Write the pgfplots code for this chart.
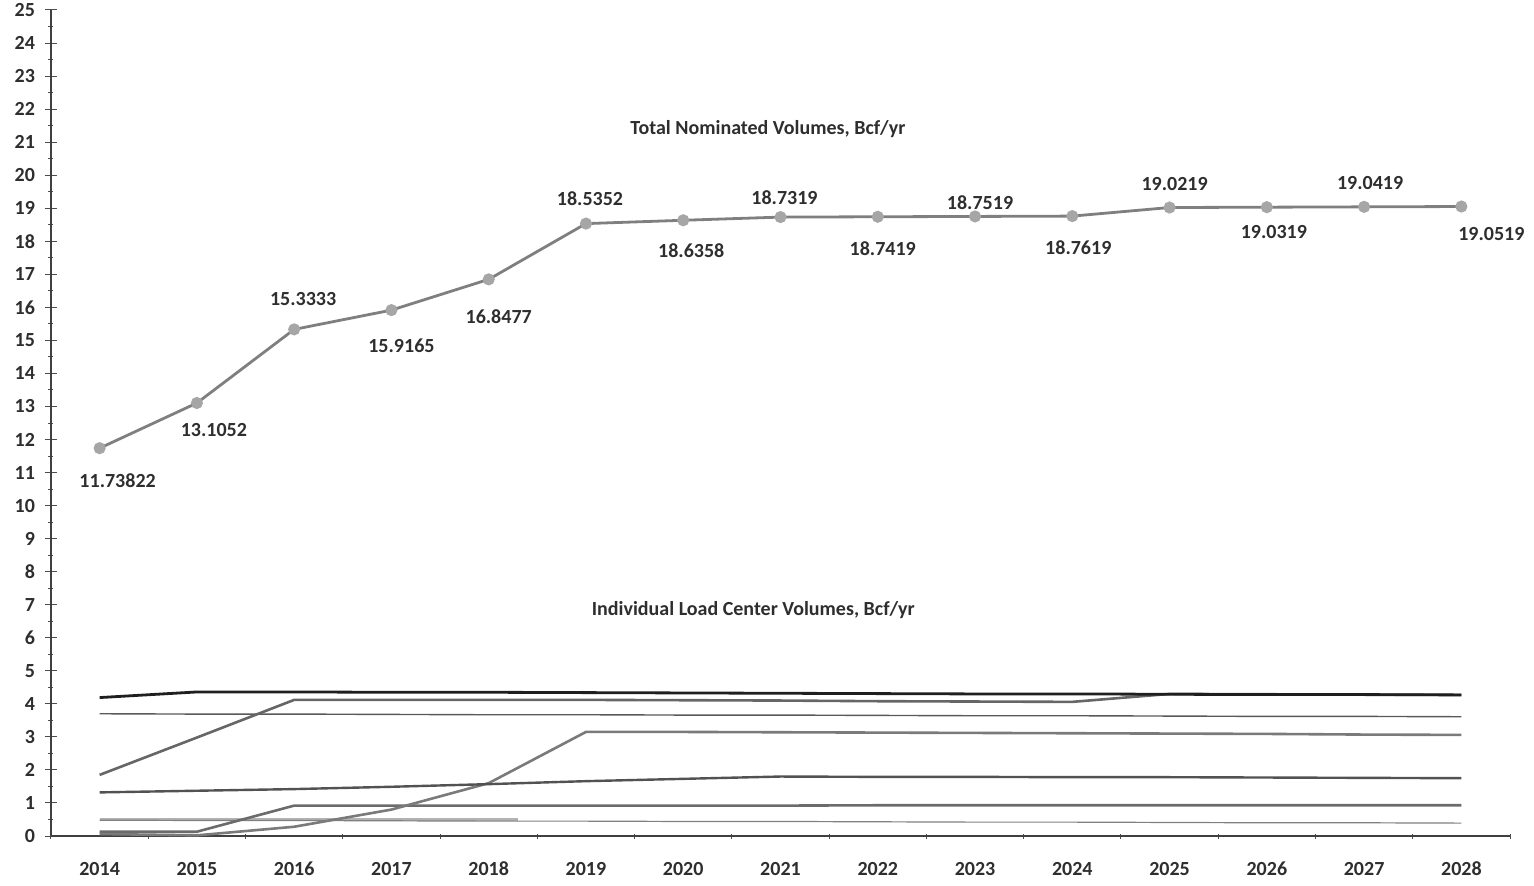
\documentclass[border=0pt]{standalone}
\usepackage{fontspec}
\setmainfont{Carlito}
\usepackage{pgfplots}
\usepackage{pgfplotstable}
\pgfplotsset{compat=1.18}
\definecolor{txt}{HTML}{2E2E2E}
\definecolor{totline}{HTML}{7F7F7F}
\definecolor{totmark}{HTML}{A6A6A6}

\pgfplotstableread{
x y lbl dx dy
0 11.73822 11.73822 9 -16
1 13.1052 13.1052 8.5 -13.5
2 15.3333 15.3333 4.5 15
3 15.9165 15.9165 5 -18
4 16.8477 16.8477 5 -18.5
5 18.5352 18.5352 2 12.5
6 18.6358 18.6358 4 -15
7 18.7319 18.7319 2 9.5
8 18.7419 18.7419 2.5 -16
9 18.7519 18.7519 2.5 7
10 18.7619 18.7619 3 -16
11 19.0219 19.0219 2.5 12
12 19.0319 19.0319 3.5 -12.5
13 19.0419 19.0419 3 12
14 19.0519 19.0519 15 -13.5
}\total

\pgfplotstableread{
x A B C D E F G
0 4.19 1.85 3.70 0.06 1.32 0.13 0.48
1 4.36 2.98 3.69 0.02 1.37 0.13 0.47
2 4.36 4.12 3.69 0.28 1.42 0.92 0.47
3 4.35 4.12 3.68 0.80 1.49 0.92 0.46
4 4.35 4.12 3.67 1.60 1.57 0.92 0.45
5 4.34 4.12 3.67 3.15 1.66 0.92 0.45
6 4.33 4.11 3.66 3.15 1.73 0.92 0.44
7 4.32 4.10 3.66 3.14 1.80 0.92 0.44
8 4.31 4.08 3.65 3.13 1.79 0.93 0.43
9 4.30 4.07 3.64 3.12 1.79 0.93 0.42
10 4.30 4.06 3.64 3.11 1.78 0.93 0.42
11 4.29 4.30 3.63 3.10 1.78 0.93 0.41
12 4.28 4.29 3.62 3.09 1.77 0.93 0.40
13 4.28 4.28 3.62 3.07 1.76 0.93 0.40
14 4.27 4.27 3.61 3.06 1.75 0.93 0.39
}\loads

\begin{document}
\begin{tikzpicture}
\begin{axis}[
  name=ax,
  scale only axis,
  width=729.5pt, height=413pt,
  xmin=-0.5, xmax=14.5,
  ymin=0, ymax=25,
  axis lines*=left,
  axis line style={draw=black!75, line width=0.7pt},
  clip=false,
  xtick={0,...,14},
  xticklabels={2014,2015,2016,2017,2018,2019,2020,2021,2022,2023,2024,2025,2026,2027,2028},
  minor xtick={-0.5,0.5,...,14.5},
  major x tick style={draw=none},
  ytick={0,1,...,25},
  minor ytick={0.5,1.5,...,24.5},
  tick align=center,
  major tick length=6pt,
  minor tick length=2.5pt,
  tick style={black!70, line width=0.5pt},
  /pgf/number format/assume math mode=true,
  tick label style={font=\bfseries\fontsize{10}{12}\selectfont, text=txt},
  yticklabel style={anchor=east, xshift=-1.5pt},
  xticklabel style={anchor=center, yshift=-13.5pt},
]
% individual load center lines
\addplot[no marks, color=black!30, line width=1.1pt] coordinates {(0,0.5) (4.3,0.5)};
\addplot[no marks, color=black!50, line width=0.6pt] table[x=x,y=G] {\loads};
\addplot[no marks, color=black!58, line width=1.3pt] table[x=x,y=F] {\loads};
\addplot[no marks, color=black!52, line width=1.3pt] table[x=x,y=D] {\loads};
\addplot[no marks, color=black!68, line width=1.2pt] table[x=x,y=E] {\loads};
\addplot[no marks, color=black!65, line width=0.7pt] table[x=x,y=C] {\loads};
\addplot[no marks, color=black!60, line width=1.3pt] table[x=x,y=B] {\loads};
\addplot[no marks, color=black!88, line width=1.4pt] table[x=x,y=A] {\loads};
% total
\addplot[color=totline, line width=1.4pt,
  mark=*, mark size=2.3pt, mark options={fill=totmark, draw=totmark},
  point meta=explicit symbolic,
  nodes near coords,
  visualization depends on={\thisrow{dx} \as \ldx},
  visualization depends on={\thisrow{dy} \as \ldy},
  every node near coord/.append style={anchor=center, xshift=\ldx pt, yshift=\ldy pt,
     font=\bfseries\fontsize{10}{12}\selectfont, text=txt},
] table[x=x, y=y, meta=lbl] {\total};
\node[font=\bfseries\fontsize{10}{12}\selectfont, text=txt] at (axis cs:6.87,21.4) {Total Nominated Volumes, Bcf/yr};
\node[font=\bfseries\fontsize{10}{12}\selectfont, text=txt] at (axis cs:6.72,6.84) {Individual Load Center Volumes, Bcf/yr};
\end{axis}
\pgfresetboundingbox
\path[use as bounding box] ([shift={(-25.5pt,-24.5pt)}]ax.south west) rectangle ([shift={(12pt,5pt)}]ax.north east);
\end{tikzpicture}
\end{document}
